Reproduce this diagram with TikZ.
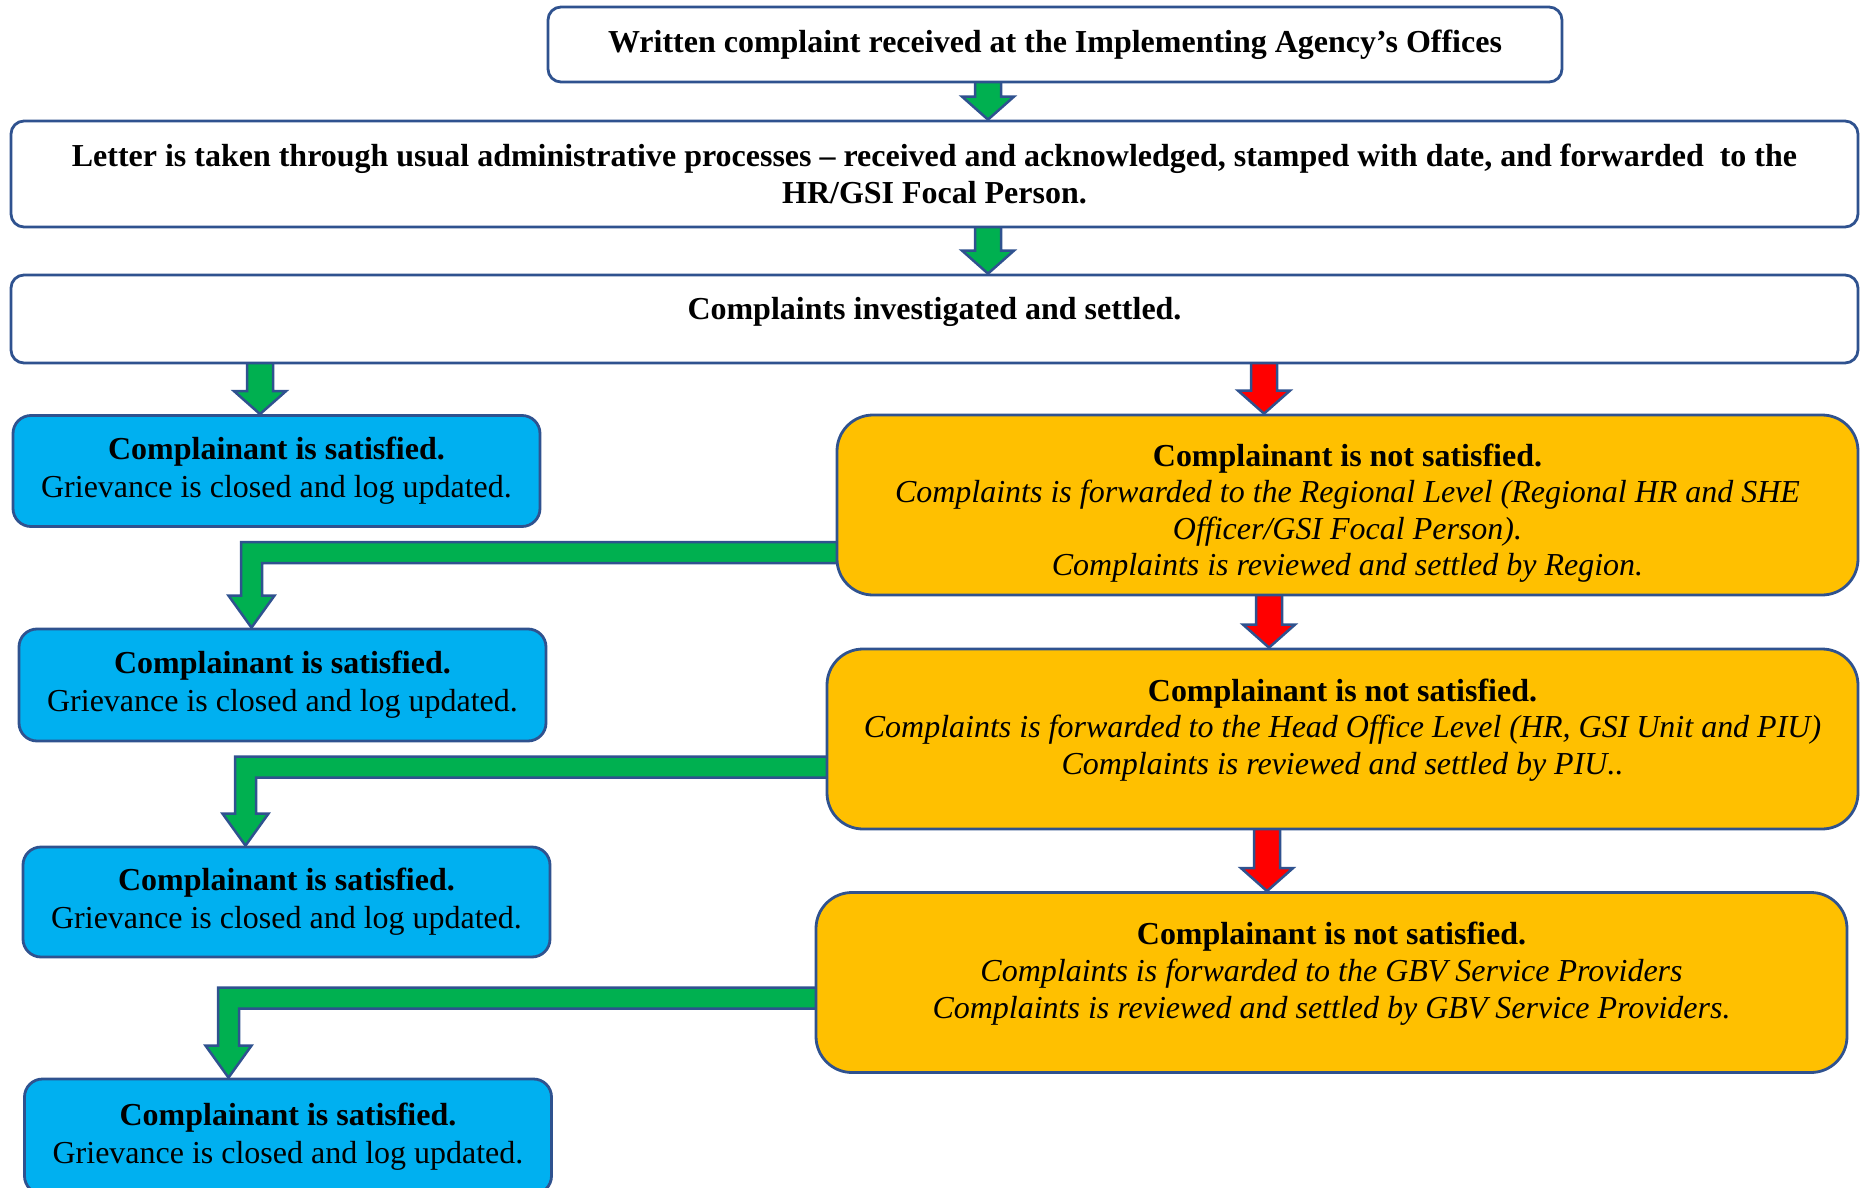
\documentclass[tikz,border=0pt]{standalone}
\usepackage{fontspec}
\setmainfont{Liberation Serif}
\usetikzlibrary{calc}
\pgfdeclarelayer{flowbg}
\pgfsetlayers{flowbg,main}

\definecolor{edgeblue}{HTML}{2F528F}
\definecolor{okblue}{HTML}{00B0F0}
\definecolor{notgold}{HTML}{FFC000}
\definecolor{arrgreen}{HTML}{00B050}
\definecolor{arrred}{HTML}{FF0000}

\tikzset{
  flowbox/.style={draw=edgeblue, line width=0.28mm, align=center, inner sep=0pt,
    font=\fontsize{9.1}{10.3}\selectfont},
  plainbox/.style={flowbox, fill=white, rounded corners=1.3mm},
  okbox/.style={flowbox, fill=okblue, rounded corners=1.8mm, minimum width=52.7mm,
    font=\fontsize{9.1}{10.8}\selectfont},
  notbox/.style={flowbox, fill=notgold, rounded corners=3.6mm, minimum width=103mm,
    minimum height=18mm, font=\fontsize{9.1}{10.4}\selectfont},
  greenarr/.style={draw=edgeblue, line width=0.25mm, fill=arrgreen},
  redarr/.style={draw=edgeblue, line width=0.25mm, fill=arrred},
}

% straight block arrow: style, x, upper node, lower node
\newcommand{\droparrow}[4]{%
  \coordinate (u) at (#2,0 |- #3.south);
  \coordinate (d) at (#2,0 |- #4.north);
  \draw[#1] ($(u)+(-13,-4)$) -- ($(d)+(-13,-23)$) -- ($(d)+(-26,-23)$) -- (d)
    -- ($(d)+(26,-23)$) -- ($(d)+(13,-23)$) -- ($(u)+(13,-4)$) -- cycle;
}
% bent block arrow: source node, target node, band y, shaft x
\newcommand{\turnarrow}[4]{%
  \coordinate (s) at ($(#1.west |- 0,#3)+(6,0)$);
  \coordinate (c) at (#4,#3);
  \coordinate (t) at (#4,0 |- #2.north);
  \draw[greenarr] ($(s)+(0,-10.5)$) -- ($(c)+(-10.5,-10.5)$) -- ($(t)+(-10.5,-32)$)
    -- ($(t)+(-23,-32)$) -- (t) -- ($(t)+(23,-32)$) -- ($(t)+(10.5,-32)$)
    -- ($(c)+(10.5,10.5)$) -- ($(s)+(0,10.5)$) -- cycle;
}

\begin{document}
\begin{tikzpicture}[x=0.1mm, y=-0.1mm]
\useasboundingbox (0,0) rectangle (1865,1188);

% Top of the chain
\node [plainbox, minimum width=101.4mm, minimum height=7.5mm] at (1055,44.5) (written)
  {\textbf{Written complaint received at the Implementing Agency’s Offices}};
\node [plainbox, minimum width=184.7mm, minimum height=10.6mm] at (934.5,174) (letter)
  {\textbf{Letter is taken through usual administrative processes – received and acknowledged, stamped with date, and forwarded\ \ to the}\\
   \textbf{HR/GSI Focal Person.}};
\node [plainbox, minimum width=184.7mm, minimum height=8.8mm, text height=2.3mm, text depth=2.2mm]
  at (934.5,319) (settled) {\textbf{Complaints investigated and settled.}};

% Satisfied outcomes
\node [okbox, minimum height=11.1mm] at (276.5,471) (sat1)
  {\textbf{Complainant is satisfied.}\\ Grievance is closed and log updated.};
\node [okbox, minimum height=11.2mm] at (282.5,685) (sat2)
  {\textbf{Complainant is satisfied.}\\ Grievance is closed and log updated.};
\node [okbox, minimum height=11mm] at (286.5,902) (sat3)
  {\textbf{Complainant is satisfied.}\\ Grievance is closed and log updated.};
\node [okbox, minimum height=11.5mm] at (288,1136.5) (sat4)
  {\textbf{Complainant is satisfied.}\\ Grievance is closed and log updated.};

% Not satisfied, escalation levels
\node [notbox, minimum width=102.1mm] at (1347.5,505) (not1)
  {\rule{0pt}{3.9mm}\textbf{Complainant is not satisfied.}\\
   \textit{Complaints is forwarded to the Regional Level (Regional HR and SHE}\\
   \textit{Officer/GSI Focal Person).}\\
   \textit{Complaints is reviewed and settled by Region.}};
\node [notbox, minimum width=103.1mm] at (1342.5,739) (not2)
  {\textbf{Complainant is not satisfied.}\\
   \textit{Complaints is forwarded to the Head Office Level (HR, GSI Unit and PIU)}\\
   \textit{Complaints is reviewed and settled by PIU..}\\[-1.2mm]};
\node [notbox, minimum width=103.1mm] at (1331.5,982.5) (not3)
  {\textbf{Complainant is not satisfied.}\\
   \textit{Complaints is forwarded to the GBV Service Providers}\\
   \textit{Complaints is reviewed and settled by GBV Service Providers.}\\[-1.2mm]};

% Connections
\begin{pgfonlayer}{flowbg}
\droparrow{greenarr}{988}{written}{letter}
\droparrow{greenarr}{988}{letter}{settled}
\droparrow{greenarr}{260}{settled}{sat1}
\droparrow{redarr}{1264}{settled}{not1}
\droparrow{redarr}{1269}{not1}{not2}
\droparrow{redarr}{1267}{not2}{not3}
\turnarrow{not1}{sat2}{552.5}{251.5}
\turnarrow{not2}{sat3}{767}{245.5}
\turnarrow{not3}{sat4}{998}{228.5}
\end{pgfonlayer}

\end{tikzpicture}
\end{document}
